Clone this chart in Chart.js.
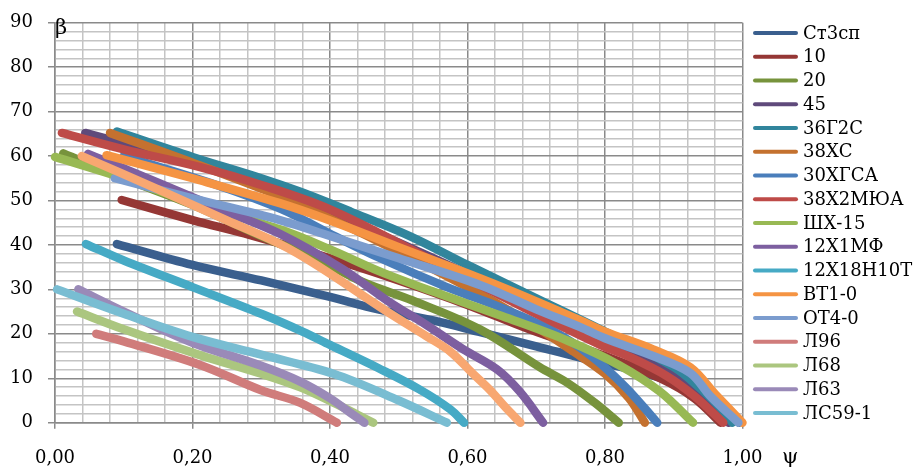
<!DOCTYPE html>
<html lang="ru">
<head>
  <meta charset="utf-8">
  <title>β(ψ)</title>
  <script src="https://cdn.jsdelivr.net/npm/chart.js"></script>
  <style>
    html, body { margin: 0; padding: 0; background: #fff; }
    #wrap { width: 919px; height: 468px; position: relative; }
  </style>
</head>
<body>
  <div id="wrap"><canvas id="betaChart" width="919" height="468"></canvas></div>

  <script>
    // grades, in legend order
    const seriesNames = ['Ст3сп', '10', '20', '45', '36Г2С', '38ХС', '30ХГСА', '38Х2МЮА', 'ШХ-15',
      '12Х1МФ', '12Х18Н10Т', 'ВТ1-0', 'ОТ4-0', 'Л96', 'Л68', 'Л63', 'ЛС59-1'];

    // [ψ, β] per grade
    const st3sp = [[0.09, 40.2], [0.2, 35.5], [0.3, 32], [0.4, 28.3], [0.47, 25.5], [0.55, 23], [0.62, 20.3],
      [0.7, 17.2], [0.78, 14], [0.85, 11.5], [0.9, 9], [0.94, 6], [0.97, 3], [0.995, 0]];
    const st10 = [[0.097, 50.1], [0.2, 45.6], [0.284, 42.2], [0.4, 37], [0.5, 32], [0.6, 26.5], [0.69, 21],
      [0.8, 15], [0.88, 10], [0.93, 5.5], [0.968, 0]];
    const st20 = [[0.012, 60.6], [0.1, 55], [0.2, 49], [0.3, 42], [0.385, 36.5], [0.45, 31.5], [0.52, 27.5],
      [0.618, 21], [0.705, 12.5], [0.745, 9], [0.785, 4.5], [0.82, 0]];
    const st45 = [[0.044, 65.2], [0.2, 58.5], [0.36, 50], [0.5, 40.5], [0.6, 33.5], [0.7, 26.5], [0.8, 19],
      [0.87, 14], [0.93, 8], [0.98, 0]];
    const st36g2s = [[0.09, 65.5], [0.2, 59.8], [0.3, 55], [0.356, 52], [0.43, 47.5], [0.516, 42], [0.6, 35.5],
      [0.7, 28], [0.8, 20.5], [0.9, 12.5], [0.94, 7.5], [0.97, 3], [0.985, 0]];
    const st38hs = [[0.08, 65.2], [0.2, 58.5], [0.327, 51], [0.4, 46], [0.5, 38.5], [0.618, 29], [0.7, 21.5],
      [0.754, 16], [0.8, 11], [0.835, 5.5], [0.858, 0]];
    const st30hgsa = [[0.1, 60], [0.235, 53.5], [0.33, 48], [0.4, 42.5], [0.473, 37], [0.57, 30.5], [0.647, 26],
      [0.72, 21], [0.78, 15], [0.83, 8], [0.876, 0]];
    const st38h2myua = [[0.01, 65.2], [0.1, 61.5], [0.211, 57.5], [0.3, 53.5], [0.4, 48], [0.53, 38], [0.618, 31],
      [0.7, 24.5], [0.793, 17.5], [0.836, 14.8], [0.89, 10.5], [0.93, 6], [0.972, 0]];
    const shh15 = [[0.0, 59.8], [0.1, 55], [0.2, 49.5], [0.327, 43.5], [0.4, 39], [0.473, 34], [0.55, 29.5],
      [0.65, 24], [0.745, 18.5], [0.82, 13], [0.88, 7], [0.928, 0]];
    const st12h1mf = [[0.048, 60.5], [0.15, 54], [0.25, 47.5], [0.327, 42.5], [0.419, 34.5], [0.483, 27.5],
      [0.54, 22], [0.594, 16.5], [0.643, 12], [0.676, 7], [0.71, 0]];
    const st12h18n10t = [[0.045, 40.2], [0.1, 36.5], [0.2, 30.5], [0.3, 24.5], [0.36, 20.5], [0.4, 17.5],
      [0.47, 12.3], [0.53, 7.5], [0.575, 3], [0.595, 0]];
    const vt10 = [[0.075, 60.2], [0.2, 55], [0.327, 49.4], [0.4, 45.5], [0.5, 39.5], [0.618, 32.5], [0.7, 27.3],
      [0.764, 23], [0.8, 20.5], [0.87, 16.5], [0.924, 12.5], [0.96, 6.5], [1.0, 0]];
    const ot40 = [[0.087, 55], [0.2, 50.5], [0.327, 45.6], [0.4, 42], [0.5, 37], [0.618, 31], [0.7, 25.5],
      [0.764, 21.5], [0.8, 19], [0.87, 15], [0.924, 11.2], [0.953, 6], [0.994, 0]];
    const l96 = [[0.06, 20], [0.1, 18.3], [0.211, 13], [0.3, 7.3], [0.356, 4.5], [0.41, 0]];
    const l68 = [[0.032, 25], [0.1, 21], [0.211, 15.2], [0.3, 11], [0.356, 8], [0.405, 4.5], [0.44, 1.8], [0.463, 0]];
    const l63 = [[0.034, 30], [0.1, 25], [0.2, 18], [0.3, 12.8], [0.356, 9.3], [0.4, 5.5], [0.43, 2.2], [0.45, 0]];
    const ls591 = [[0.003, 30], [0.1, 24.5], [0.2, 19.3], [0.3, 15.3], [0.405, 11], [0.5, 5], [0.57, 0]];
    // 18th curve, no legend entry
    const series18 = [[0.039, 60], [0.15, 52.5], [0.25, 45.5], [0.327, 40.2], [0.38, 35.5], [0.483, 25],
      [0.54, 19.5], [0.575, 16], [0.608, 11], [0.633, 7.3], [0.655, 3.5], [0.677, 0]];

    const seriesData = [st3sp, st10, st20, st45, st36g2s, st38hs, st30hgsa, st38h2myua, shh15,
      st12h1mf, st12h18n10t, vt10, ot40, l96, l68, l63, ls591, series18];

    const xTickValues = [0, 0.2, 0.4, 0.6, 0.8, 1.0];
    const xTickLabels = ['0,00', '0,20', '0,40', '0,60', '0,80', '1,00'];
    const yTickValues = [0, 10, 20, 30, 40, 50, 60, 70, 80, 90];
    const yTickLabels = ['0', '10', '20', '30', '40', '50', '60', '70', '80', '90'];

    const seriesColors = ['#3A5F8E', '#953735', '#77933C', '#5F4A7B', '#31859C', '#C4712F',
      '#4A7EBB', '#BE4B48', '#98B954', '#7D5FA0', '#46AAC5', '#F59443',
      '#7B9CCE', '#D07C7B', '#ABC67F', '#9A8AB8', '#79BDD2', '#F8A771'];

    const FONT = '"DejaVu Serif", "Liberation Serif", serif';
    const MAJOR = '#8A8A8A', MINOR = '#C4C4C4';

    const isMajorX = v => Math.abs(v * 5 - Math.round(v * 5)) < 1e-6;
    const isMajorY = v => Math.abs(v / 10 - Math.round(v / 10)) < 1e-6;

    const datasets = seriesData.map((pts, i) => ({
      label: seriesNames[i] || '',
      data: pts.map(p => ({ x: p[0], y: p[1] })),
      showLine: true,
      borderColor: seriesColors[i],
      backgroundColor: seriesColors[i],
      borderWidth: 8.5,
      borderCapStyle: 'round',
      borderJoinStyle: 'round',
      pointRadius: 0,
      pointHoverRadius: 0,
      tension: 0.35,
      clip: false,
      order: -i
    }));

    // tick labels, legend column and the β / ψ axis letters
    const annotations = {
      id: 'annotations',
      afterDraw(chart) {
        const ctx = chart.ctx;
        const xs = chart.scales.x, ys = chart.scales.y;
        ctx.save();
        ctx.fillStyle = '#000';
        ctx.font = '18px ' + FONT;

        ctx.textAlign = 'right';
        ctx.textBaseline = 'middle';
        yTickValues.forEach((v, i) => ctx.fillText(yTickLabels[i], 33, ys.getPixelForValue(v)));

        ctx.textAlign = 'center';
        xTickValues.forEach((v, i) => ctx.fillText(xTickLabels[i], xs.getPixelForValue(v), 458));

        ctx.textAlign = 'left';
        seriesNames.forEach((name, i) => {
          const y = 33 + i * 23.75;
          ctx.strokeStyle = seriesColors[i];
          ctx.lineWidth = 4;
          ctx.lineCap = 'round';
          ctx.beginPath();
          ctx.moveTo(755, y);
          ctx.lineTo(796, y);
          ctx.stroke();
          ctx.fillText(name, 803, y + 1);
        });

        ctx.font = '21px ' + FONT;
        ctx.textBaseline = 'alphabetic';
        ctx.fillText('β', 55, 34);
        ctx.fillText('ψ', 782, 463);
        ctx.restore();
      }
    };

    new Chart(document.getElementById('betaChart'), {
      type: 'scatter',
      data: { datasets },
      options: {
        responsive: false,
        animation: false,
        events: [],
        layout: { padding: { top: 22.7, right: 176.5, left: 0, bottom: 0 } },
        plugins: { legend: { display: false }, tooltip: { enabled: false } },
        scales: {
          x: {
            type: 'linear',
            min: 0, max: 1,
            afterFit: s => { s.height = 45.3; },
            ticks: { stepSize: 0.04, autoSkip: false, display: false },
            grid: {
              color: c => isMajorX(c.tick.value) ? MAJOR : MINOR,
              lineWidth: 1.5,
              tickLength: 6,
              tickColor: c => isMajorX(c.tick.value) ? MAJOR : 'rgba(0,0,0,0)'
            },
            border: { color: MAJOR, width: 1.5 }
          },
          y: {
            type: 'linear',
            min: 0, max: 90,
            afterFit: s => { s.width = 55; },
            ticks: { stepSize: 2, autoSkip: false, display: false },
            grid: {
              color: c => isMajorY(c.tick.value) ? MAJOR : MINOR,
              lineWidth: 1.5,
              tickLength: 7,
              tickColor: c => isMajorY(c.tick.value) ? MAJOR : 'rgba(0,0,0,0)'
            },
            border: { color: MAJOR, width: 1.5 }
          }
        }
      },
      plugins: [annotations]
    });
  </script>
</body>
</html>
